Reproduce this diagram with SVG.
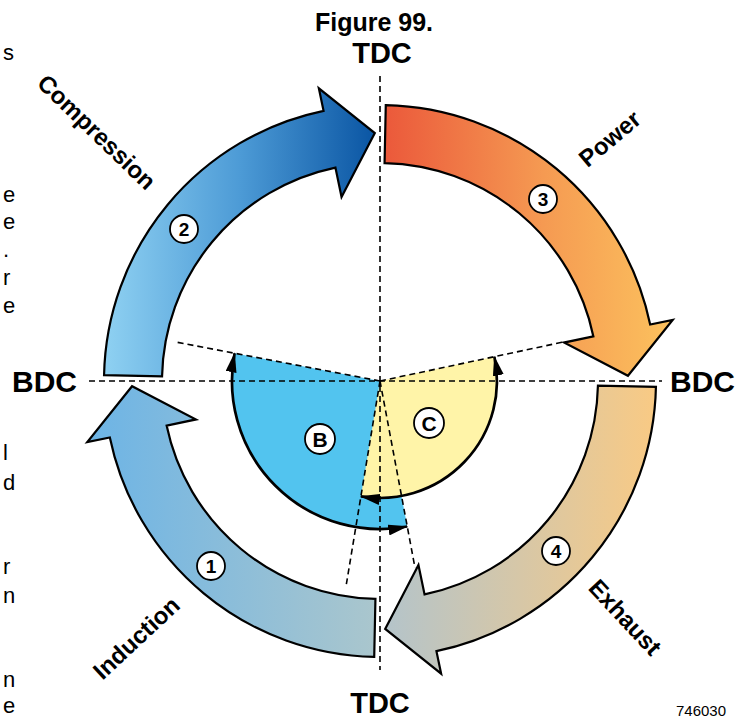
<svg xmlns="http://www.w3.org/2000/svg" width="750" height="719" viewBox="0 0 750 719">
<style>
.arrow{stroke:#000;stroke-width:2.2;stroke-linejoin:miter}
.dash{stroke:#000;stroke-width:1.6;stroke-dasharray:6 4;fill:none}
.lbl{font-family:"Liberation Sans",Arial,sans-serif;font-weight:bold;fill:#000}
.frag{font-family:"Liberation Sans",Arial,sans-serif;font-size:22px;fill:#000;text-anchor:start}
.badge circle{fill:#fff;stroke:#000;stroke-width:1.8}
.badge text{font-family:"Liberation Sans",Arial,sans-serif;font-weight:bold;font-size:19px;text-anchor:middle;fill:#000}
.arc{fill:none;stroke:#000;stroke-width:2.7;marker-start:url(#ah);marker-end:url(#ah)}
</style>
<defs>
<marker id="ah" viewBox="0 0 20 11" refX="19" refY="5.5" markerWidth="20" markerHeight="11" markerUnits="userSpaceOnUse" orient="auto-start-reverse">
<path d="M0,0 L20,5.5 L0,11 z" fill="#000"/>
</marker>
<linearGradient id="gComp" gradientUnits="userSpaceOnUse" x1="104" y1="0" x2="375" y2="0">
<stop offset="0" stop-color="#8fd1f2"/><stop offset="0.5" stop-color="#4d9bd6"/><stop offset="1" stop-color="#0a55a3"/>
</linearGradient>
<linearGradient id="gPow" gradientUnits="userSpaceOnUse" x1="385" y1="0" x2="673" y2="0">
<stop offset="0" stop-color="#eb593b"/><stop offset="0.55" stop-color="#f59a52"/><stop offset="1" stop-color="#fcc25e"/>
</linearGradient>
<linearGradient id="gExh" gradientUnits="userSpaceOnUse" x1="385" y1="0" x2="656" y2="0">
<stop offset="0" stop-color="#b4c4ca"/><stop offset="1" stop-color="#f9ca84"/>
</linearGradient>
<linearGradient id="gInd" gradientUnits="userSpaceOnUse" x1="87" y1="0" x2="375" y2="0">
<stop offset="0" stop-color="#6cb4e6"/><stop offset="1" stop-color="#aac6cd"/>
</linearGradient>
</defs>
<rect width="750" height="719" fill="#fff"/>

<g id="page-fragments">
<text class="frag" x="3" y="60">s</text>
<text class="frag" x="3" y="202">e</text>
<text class="frag" x="3" y="229">e</text>
<text class="frag" x="3" y="257">.</text>
<text class="frag" x="3" y="285">r</text>
<text class="frag" x="3" y="313">e</text>
<text class="frag" x="3" y="460">l</text>
<text class="frag" x="3" y="490">d</text>
<text class="frag" x="3" y="574">r</text>
<text class="frag" x="3" y="603">n</text>
<text class="frag" x="3" y="687">n</text>
<text class="frag" x="3" y="713">e</text>
</g>

<g id="sector-B">
<path d="M380,381 L234.6,353.3 A148,148 0 0 0 407.2,526.5 Z" fill="#52c4ef"/>
</g>
<g id="sector-C">
<path d="M380,381 L494.4,356.7 A117,117 0 0 1 360.9,496.4 Z" fill="#fff4a8"/>
</g>

<g id="connectors">
<line class="dash" x1="380" y1="76" x2="380" y2="670"/>
<line class="dash" x1="89" y1="381" x2="662" y2="381"/>
<line class="dash" x1="380" y1="381" x2="173.7" y2="341.6"/>
<line class="dash" x1="380" y1="381" x2="561.9" y2="342.3"/>
<line class="dash" x1="380" y1="381" x2="345.7" y2="588.2"/>
<line class="dash" x1="380" y1="381" x2="415" y2="567.8"/>
<path class="arc" d="M234.6,353.3 A148,148 0 0 0 407.2,526.5"/>
<path class="arc" d="M494.4,356.7 A117,117 0 0 1 360.9,496.4"/>
</g>

<g id="compression">
<path class="arrow" fill="url(#gComp)" d="M104.06,375.22 A276,276 0 0 1 323.56,110.83 L318.85,88.32 L374.81,133.05 L341.55,196.97 L335.42,167.61 A218,218 0 0 0 162.05,376.43 Z"/>
</g>
<g id="power">
<path class="arrow" fill="url(#gPow)" d="M385.78,105.06 A276,276 0 0 1 650.17,324.56 L672.68,319.85 L627.95,375.81 L564.03,342.55 L593.39,336.42 A218,218 0 0 0 384.57,163.05 Z"/>
</g>
<g id="exhaust">
<path class="arrow" fill="url(#gExh)" d="M655.94,386.78 A276,276 0 0 1 436.44,651.17 L441.15,673.68 L385.19,628.95 L418.45,565.03 L424.58,594.39 A218,218 0 0 0 597.95,385.57 Z"/>
</g>
<g id="induction">
<path class="arrow" fill="url(#gInd)" d="M374.22,656.94 A276,276 0 0 1 109.83,437.44 L87.32,442.15 L132.05,386.19 L195.97,419.45 L166.61,425.58 A218,218 0 0 0 375.43,598.95 Z"/>
</g>

<g id="badge-1" class="badge"><circle cx="211" cy="566" r="14"/><text x="211" y="573">1</text></g>
<g id="badge-2" class="badge"><circle cx="184" cy="229" r="14"/><text x="184" y="236">2</text></g>
<g id="badge-3" class="badge"><circle cx="543" cy="199" r="14"/><text x="543" y="206">3</text></g>
<g id="badge-4" class="badge"><circle cx="556" cy="551" r="14"/><text x="556" y="558">4</text></g>
<g id="badge-B" class="badge"><circle cx="320" cy="439" r="15"/><text x="320" y="446.5" style="font-size:21px">B</text></g>
<g id="badge-C" class="badge"><circle cx="429" cy="423" r="15"/><text x="429" y="430.5" style="font-size:21px">C</text></g>

<g id="labels">
<text class="lbl" x="374" y="31" font-size="25" text-anchor="middle">Figure 99.</text>
<text class="lbl" x="382" y="63" font-size="29" text-anchor="middle">TDC</text>
<text class="lbl" x="380" y="713" font-size="29" text-anchor="middle">TDC</text>
<text class="lbl" x="44.5" y="392" font-size="30" text-anchor="middle">BDC</text>
<text class="lbl" x="702.5" y="392" font-size="30" text-anchor="middle">BDC</text>
<text class="lbl" font-size="24" text-anchor="middle" transform="translate(91,138) rotate(44)">Compression</text>
<text class="lbl" font-size="24" text-anchor="middle" transform="translate(615,145) rotate(-40)">Power</text>
<text class="lbl" font-size="24" text-anchor="middle" transform="translate(619,623) rotate(47)">Exhaust</text>
<text class="lbl" font-size="24" text-anchor="middle" transform="translate(142,644) rotate(-43)">Induction</text>
<text x="701" y="716" font-family="'Liberation Sans',Arial,sans-serif" font-size="15" text-anchor="middle" fill="#000">746030</text>
</g>
</svg>
